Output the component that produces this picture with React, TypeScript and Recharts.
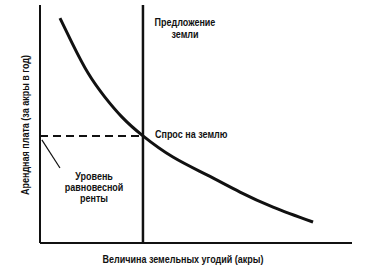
import { ComposedChart, Line, XAxis, YAxis, ReferenceLine, ReferenceDot } from 'recharts';

// demand for land: quantity (acres) vs rent per acre (0..100 scale)
const demandQty = [6.4, 10.3, 15.4, 20.8, 26.3, 33, 42.6, 53.5, 64.1, 74.7, 87.5];
const demandRent = [94.5, 84, 71.4, 61.3, 52.9, 45, 36.1, 28.6, 21.4, 15.1, 8.8];

const landSupply = 33;
const equilibriumRent = 45;
const pointerFrom = [0.6, 43.3];
const pointerTo = [6.4, 31.5];
const rentLabelAt = [17, 23.5];

const supplyLabel = ['Предложение', 'земли'];
const demandLabel = ['Спрос на землю'];
const rentLabel = ['Уровень', 'равновесной', 'ренты'];
const xTitle = 'Величина земельных угодий (акры)';
const yTitle = 'Арендная плата (за акры в год)';

const data = demandQty.map((q, i) => ({ qty: q, rent: demandRent[i] }));

const FONT = '"Liberation Sans", Arial, sans-serif';
const INK = '#111';
const FS = 10;
// the scan uses a narrow typeface, squeeze the regular one horizontally
const SQUEEZE = 0.9;

function Squeezed({ x, y, rotate = 0, anchor = 'middle', lines, lh = 12 }: any) {
  return (
    <g transform={`translate(${x}, ${y}) rotate(${rotate}) scale(${SQUEEZE}, 1)`}>
      <text x={0} y={0} textAnchor={anchor} fontSize={FS} fontFamily={FONT} fontWeight={700} fill={INK}>
        {lines.map((l: string, i: number) => (
          <tspan key={i} x={0} dy={i === 0 ? 0 : lh}>{l}</tspan>
        ))}
      </text>
    </g>
  );
}

function textBlock(lines: string[], dx: number, dy: number, anchor: 'start' | 'middle', lh = 12) {
  return (props: any) => {
    const vb = props.viewBox || {};
    const x = (vb.x ?? vb.cx ?? 0) + dx;
    const y = (vb.y ?? vb.cy ?? 0) + dy;
    return <Squeezed x={x} y={y} anchor={anchor} lines={lines} lh={lh} />;
  };
}

const XTitle = (props: any) => {
  const vb = props.viewBox;
  return <Squeezed x={vb.x + vb.width / 2 - 13} y={vb.y + 19.5} lines={[xTitle]} />;
};

const YTitle = (props: any) => {
  const vb = props.viewBox;
  return <Squeezed x={29} y={vb.y + vb.height / 2 + 1} rotate={-90} lines={[yTitle]} />;
};

export default function App() {
  return (
    <div style={{ position: 'absolute', left: 0, top: 0, width: 372, height: 271, background: '#fff' }}>
      <ComposedChart width={372} height={271} data={data} margin={{ top: 5, right: 20, left: 0, bottom: 0 }}>
        <XAxis
          dataKey="qty"
          type="number"
          domain={[0, 100]}
          ticks={[]}
          tick={false}
          tickLine={false}
          axisLine={{ stroke: INK, strokeWidth: 2 }}
          height={28}
          label={<XTitle />}
        />
        <YAxis
          type="number"
          domain={[0, 100]}
          ticks={[]}
          tick={false}
          tickLine={false}
          axisLine={{ stroke: INK, strokeWidth: 2 }}
          width={40}
          label={<YTitle />}
        />
        <ReferenceLine
          segment={[{ x: 0, y: equilibriumRent }, { x: landSupply, y: equilibriumRent }]}
          stroke={INK}
          strokeWidth={2}
          strokeDasharray="8 5"
        />
        <ReferenceLine
          segment={[{ x: pointerFrom[0], y: pointerFrom[1] }, { x: pointerTo[0], y: pointerTo[1] }]}
          stroke={INK}
          strokeWidth={1.2}
        />
        <ReferenceLine
          x={landSupply}
          stroke={INK}
          strokeWidth={2.5}
          label={textBlock(supplyLabel, 42, 20.5, 'middle', 12.5)}
        />
        <Line
          dataKey="rent"
          type="natural"
          stroke={INK}
          strokeWidth={3}
          dot={false}
          isAnimationActive={false}
        />
        <ReferenceDot
          x={landSupply}
          y={equilibriumRent}
          r={0}
          stroke="none"
          fill="none"
          label={textBlock(demandLabel, 12, 2, 'start')}
        />
        <ReferenceDot
          x={rentLabelAt[0]}
          y={rentLabelAt[1]}
          r={0}
          stroke="none"
          fill="none"
          label={textBlock(rentLabel, 1, -7, 'middle', 11)}
        />
      </ComposedChart>
    </div>
  );
}
